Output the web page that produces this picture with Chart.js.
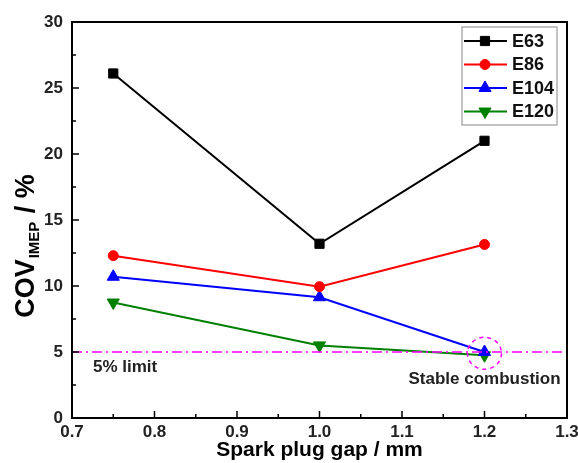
<!DOCTYPE html>
<html>
<head>
<meta charset="utf-8">
<script src="https://cdn.jsdelivr.net/npm/chart.js@4.4.0/dist/chart.umd.min.js"></script>
<style>
  html, body { margin: 0; padding: 0; background: #fff; }
  #wrap { width: 578px; height: 463px; }
</style>
</head>
<body>
<div id="wrap"><canvas id="cov_chart"></canvas></div>
<script>
// values
const gaps = [0.75, 1.0, 1.2];
const e63 = [26.1, 13.2, 21.0];
const e86 = [12.3, 9.95, 13.15];
const e104 = [10.7, 9.15, 5.0];
const e120 = [8.75, 5.5, 4.75];
const limitValue = 5;
const seriesNames = ['E63', 'E86', 'E104', 'E120'];
const FONT = '"Liberation Sans", Arial, sans-serif';

function pts(ys) {
    return gaps.map((g, i) => ({ x: g, y: ys[i] }));
}

// frame, inward ticks, limit line, annotations, legend
const decor = {
    id: 'decor',
    afterDatasetsDraw(chart) {
        const ctx = chart.ctx;
        const a = chart.chartArea;
        const xs = chart.scales.x, ys = chart.scales.y;
        ctx.save();

        // limit line
        const ly = ys.getPixelForValue(limitValue);
        ctx.strokeStyle = '#ff00ff';
        ctx.lineWidth = 1.5;
        ctx.setLineDash([10, 4, 2, 4]);
        ctx.beginPath();
        ctx.moveTo(a.left, ly);
        ctx.lineTo(a.right, ly);
        ctx.stroke();

        // dashed circle round the stable point
        ctx.setLineDash([4, 4]);
        ctx.beginPath();
        ctx.ellipse(xs.getPixelForValue(1.2), ys.getPixelForValue(4.9), 17, 16, 0, 0, Math.PI * 2);
        ctx.stroke();
        ctx.setLineDash([]);

        ctx.fillStyle = '#222';
        ctx.font = 'bold 17px ' + FONT;
        ctx.textAlign = 'left';
        ctx.textBaseline = 'middle';
        ctx.fillText('5% limit', a.left + 21, ly + 15);
        ctx.textAlign = 'center';
        ctx.fillText('Stable combustion', xs.getPixelForValue(1.2), ly + 27);

        // frame
        ctx.strokeStyle = '#000';
        ctx.lineWidth = 2;
        ctx.strokeRect(a.left, a.top, a.right - a.left, a.bottom - a.top);

        // inward ticks
        ctx.lineWidth = 1.5;
        ctx.beginPath();
        for (let v = 0.7; v <= 1.3001; v += 0.05) {
            const px = xs.getPixelForValue(v);
            const major = Math.abs(Math.round(v * 10) - v * 10) < 1e-6;
            ctx.moveTo(px, a.bottom);
            ctx.lineTo(px, a.bottom - (major ? 7 : 4));
        }
        for (let v = 0; v <= 30; v += 2.5) {
            const py = ys.getPixelForValue(v);
            const major = v % 5 === 0;
            ctx.moveTo(a.left, py);
            ctx.lineTo(a.left + (major ? 7 : 4), py);
        }
        ctx.stroke();

        // y axis title with subscript
        ctx.save();
        ctx.translate(27, (a.top + a.bottom) / 2 + 27);
        ctx.rotate(-Math.PI / 2);
        ctx.fillStyle = '#000';
        ctx.textBaseline = 'middle';
        ctx.textAlign = 'left';
        const big = 'bold 27px ' + FONT, small = 'bold 15px ' + FONT;
        ctx.font = big; const w1 = ctx.measureText('COV').width;
        ctx.font = small; const w2 = ctx.measureText('IMEP').width;
        ctx.font = big; const w3 = ctx.measureText(' / %').width;
        let x0 = -(w1 + w2 + w3) / 2;
        ctx.font = big; ctx.fillText('COV', x0, 0);
        ctx.font = small; ctx.fillText('IMEP', x0 + w1 + 1, 8);
        ctx.font = big; ctx.fillText(' / %', x0 + w1 + w2 + 2, 0);
        ctx.restore();

        // legend box
        const lx = 462, lt = 27, lw = 95, rowH = 23.5;
        ctx.strokeStyle = '#888';
        ctx.lineWidth = 1;
        ctx.strokeRect(lx, lt, lw, 98);
        chart.data.datasets.forEach((ds, i) => {
            const cy = lt + 14 + i * rowH;
            ctx.strokeStyle = ds.borderColor;
            ctx.lineWidth = 2;
            ctx.beginPath();
            ctx.moveTo(lx + 2, cy);
            ctx.lineTo(lx + 45, cy);
            ctx.stroke();
            ctx.fillStyle = ds.borderColor;
            ctx.lineWidth = 1;
            Chart.helpers.drawPoint(ctx, {
                pointStyle: ds.pointStyle, radius: ds.pointRadius, rotation: ds.rotation || 0, borderWidth: 1
            }, lx + 23, cy);
            ctx.fillStyle = '#111';
            ctx.font = 'bold 18px ' + FONT;
            ctx.textAlign = 'left';
            ctx.textBaseline = 'middle';
            ctx.fillText(ds.label, lx + 50, cy + 1);
        });
        ctx.restore();
    }
};

function makeSet(name, ys, color, style, rot) {
    return {
        label: name,
        data: pts(ys),
        borderColor: color,
        backgroundColor: color,
        borderWidth: 2,
        pointStyle: style,
        rotation: rot || 0,
        pointRadius: style === 'rect' ? 6.5 : (style === 'circle' ? 5 : 7),
        pointBorderWidth: 1,
        tension: 0
    };
}

(function cov_chart()
{
    const sample = document.getElementById('cov_chart');
    const myChart = new Chart(sample, {
        type: 'line',
        data: {
            datasets: [
                makeSet(seriesNames[0], e63, '#000000', 'rect'),
                makeSet(seriesNames[1], e86, '#ff0000', 'circle'),
                makeSet(seriesNames[2], e104, '#0000ff', 'triangle'),
                makeSet(seriesNames[3], e120, '#008000', 'triangle', 180)
            ]
        },
        options: {
            responsive: true,
            maintainAspectRatio: false,
            animation: false,
            layout: { padding: { top: 22, right: 11, left: 0, bottom: 0 } },
            plugins: { legend: { display: false }, tooltip: { enabled: false } },
            scales: {
                x: {
                    type: 'linear',
                    min: 0.7,
                    max: 1.3,
                    grid: { display: false, drawTicks: false },
                    border: { display: false },
                    ticks: {
                        stepSize: 0.1,
                        autoSkip: false,
                        maxRotation: 0,
                        padding: 4,
                        color: '#222',
                        font: { family: FONT, size: 17, weight: 'bold' },
                        callback: v => v.toFixed(1)
                    },
                    title: {
                        display: true,
                        text: 'Spark plug gap / mm',
                        color: '#000',
                        padding: { top: 0, bottom: 0 },
                        font: { family: FONT, size: 21, weight: 'bold' }
                    },
                    afterFit: s => { s.height = 45; s.paddingLeft = 0; s.paddingRight = 0; }
                },
                y: {
                    min: 0,
                    max: 30,
                    grid: { display: false, drawTicks: false },
                    border: { display: false },
                    ticks: {
                        stepSize: 5,
                        padding: 9,
                        color: '#222',
                        font: { family: FONT, size: 17, weight: 'bold' }
                    },
                    afterFit: s => { s.width = 72; s.paddingTop = 0; s.paddingBottom = 0; }
                }
            }
        },
        plugins: [decor]
    });
})();
</script>
</body>
</html>
